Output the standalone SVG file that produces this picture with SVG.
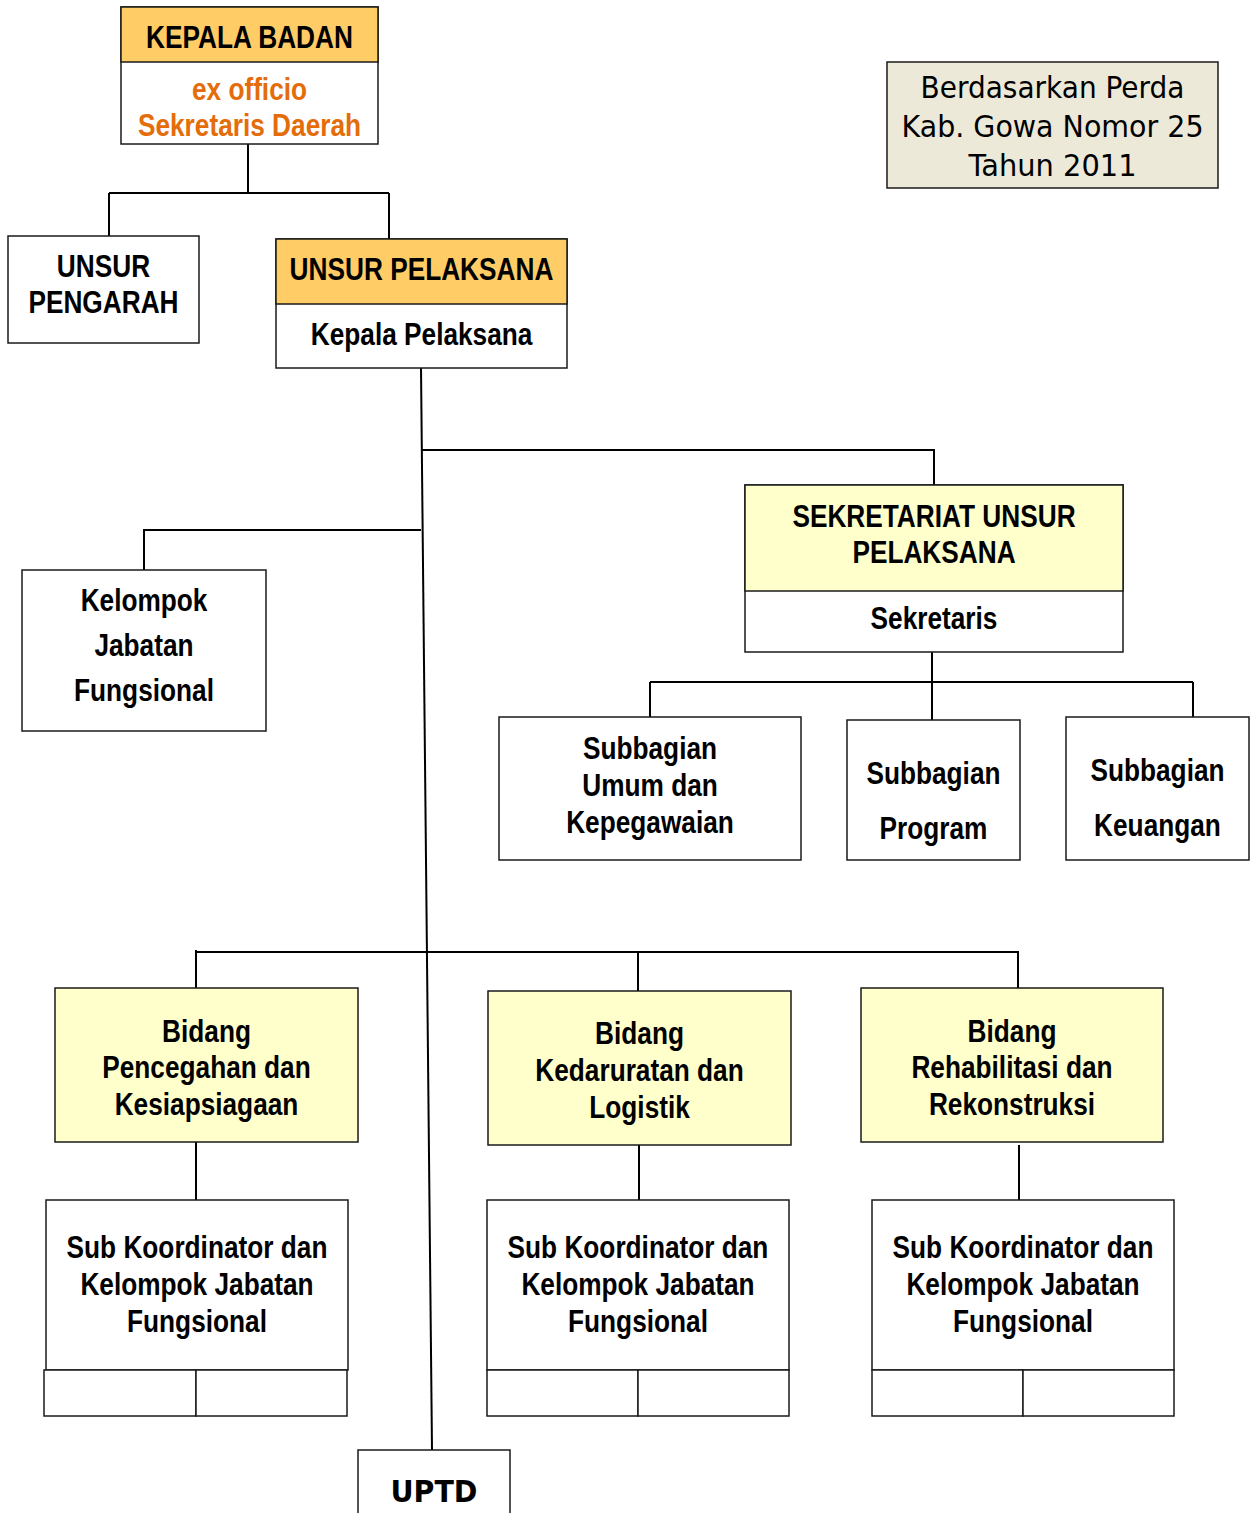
<svg xmlns="http://www.w3.org/2000/svg" width="1252" height="1513" viewBox="0 0 1252 1513">
<style>
.bx{stroke:#1a1a1a;stroke-width:1.5;fill:#ffffff}
.or{fill:#FFCC66}
.ye{fill:#FFFFCC}
.gr{fill:#ECE9D8}
.t{font-family:"Liberation Sans",Arial,sans-serif;font-weight:bold;font-size:32px;fill:#000;text-anchor:middle;transform-box:fill-box;transform-origin:center;transform:scaleX(0.82)}
.o{fill:#E46C0A}
.tah{font-family:"DejaVu Sans","Liberation Sans",sans-serif;font-size:30px;fill:#000;text-anchor:middle}
.up{font-family:"DejaVu Sans","Liberation Sans",sans-serif;font-weight:bold;font-size:30px;fill:#000;text-anchor:middle}
.ln{stroke:#000;stroke-width:2;fill:none}
</style>
<rect width="1252" height="1513" fill="#ffffff"/>
<g id="connectors">
<path class="ln" d="M248 144V193M109 193H389M109 193V236M389 193V239"/>
<path class="ln" d="M421 368L432 1450"/>
<path class="ln" d="M422 450H934V485"/>
<path class="ln" d="M421 530H144V570"/>
<path class="ln" d="M932 652V720M650 682H1193M650 682V717M1193 682V717"/>
<path class="ln" d="M196 952H1019M196 950V988M638 952V991M1018 952V988"/>
<path class="ln" d="M196 1142V1200M639 1145V1200M1019 1145V1203"/>
</g>
<g id="kepala-badan">
<rect class="bx" x="121" y="7" width="257" height="137"/>
<rect class="bx or" x="121" y="7" width="257" height="55"/>
<text class="t" x="249.5" y="48">KEPALA BADAN</text>
<text class="t o" x="249.5" y="100">ex officio</text>
<text class="t o" x="249.5" y="136">Sekretaris Daerah</text>
</g>
<g id="perda">
<rect class="bx gr" x="887" y="62" width="331" height="126"/>
<text class="tah" x="1052.5" y="98" textLength="264" lengthAdjust="spacingAndGlyphs">Berdasarkan Perda</text>
<text class="tah" x="1052.5" y="137" textLength="302" lengthAdjust="spacingAndGlyphs">Kab. Gowa Nomor 25</text>
<text class="tah" x="1052.5" y="176" textLength="168" lengthAdjust="spacingAndGlyphs">Tahun 2011</text>
</g>
<g id="unsur-pengarah">
<rect class="bx" x="8" y="236" width="191" height="107"/>
<text class="t" x="103.5" y="277">UNSUR</text>
<text class="t" x="103.5" y="313">PENGARAH</text>
</g>
<g id="unsur-pelaksana">
<rect class="bx" x="276" y="239" width="291" height="129"/>
<rect class="bx or" x="276" y="239" width="291" height="65"/>
<text class="t" x="421.5" y="280">UNSUR PELAKSANA</text>
<text class="t" x="421.5" y="345">Kepala Pelaksana</text>
</g>
<g id="sekretariat">
<rect class="bx" x="745" y="485" width="378" height="167"/>
<rect class="bx ye" x="745" y="485" width="378" height="106"/>
<text class="t" x="934" y="527">SEKRETARIAT UNSUR</text>
<text class="t" x="934" y="563">PELAKSANA</text>
<text class="t" x="934" y="629">Sekretaris</text>
</g>
<g id="kelompok-jabatan-fungsional">
<rect class="bx" x="22" y="570" width="244" height="161"/>
<text class="t" x="144" y="611">Kelompok</text>
<text class="t" x="144" y="656">Jabatan</text>
<text class="t" x="144" y="701">Fungsional</text>
</g>
<g id="subbagian-umum">
<rect class="bx" x="499" y="717" width="302" height="143"/>
<text class="t" x="650" y="759">Subbagian</text>
<text class="t" x="650" y="796">Umum dan</text>
<text class="t" x="650" y="833">Kepegawaian</text>
</g>
<g id="subbagian-program">
<rect class="bx" x="847" y="720" width="173" height="140"/>
<text class="t" x="933.5" y="784">Subbagian</text>
<text class="t" x="933.5" y="839">Program</text>
</g>
<g id="subbagian-keuangan">
<rect class="bx" x="1066" y="717" width="183" height="143"/>
<text class="t" x="1157.5" y="781">Subbagian</text>
<text class="t" x="1157.5" y="836">Keuangan</text>
</g>
<g id="bidang-pencegahan">
<rect class="bx ye" x="55" y="988" width="303" height="154"/>
<text class="t" x="206.5" y="1042">Bidang</text>
<text class="t" x="206.5" y="1078">Pencegahan dan</text>
<text class="t" x="206.5" y="1115">Kesiapsiagaan</text>
</g>
<g id="bidang-kedaruratan">
<rect class="bx ye" x="488" y="991" width="303" height="154"/>
<text class="t" x="639.5" y="1044">Bidang</text>
<text class="t" x="639.5" y="1081">Kedaruratan dan</text>
<text class="t" x="639.5" y="1118">Logistik</text>
</g>
<g id="bidang-rehabilitasi">
<rect class="bx ye" x="861" y="988" width="302" height="154"/>
<text class="t" x="1012" y="1042">Bidang</text>
<text class="t" x="1012" y="1078">Rehabilitasi dan</text>
<text class="t" x="1012" y="1115">Rekonstruksi</text>
</g>
<g id="subkoor-1">
<rect class="bx" x="46" y="1200" width="302" height="170"/>
<rect class="bx" x="44" y="1370" width="152" height="46"/>
<rect class="bx" x="196" y="1370" width="151" height="46"/>
<text class="t" x="197" y="1258">Sub Koordinator dan</text>
<text class="t" x="197" y="1295">Kelompok Jabatan</text>
<text class="t" x="197" y="1332">Fungsional</text>
</g>
<g id="subkoor-2">
<rect class="bx" x="487" y="1200" width="302" height="170"/>
<rect class="bx" x="487" y="1370" width="151" height="46"/>
<rect class="bx" x="638" y="1370" width="151" height="46"/>
<text class="t" x="638" y="1258">Sub Koordinator dan</text>
<text class="t" x="638" y="1295">Kelompok Jabatan</text>
<text class="t" x="638" y="1332">Fungsional</text>
</g>
<g id="subkoor-3">
<rect class="bx" x="872" y="1200" width="302" height="170"/>
<rect class="bx" x="872" y="1370" width="151" height="46"/>
<rect class="bx" x="1023" y="1370" width="151" height="46"/>
<text class="t" x="1023" y="1258">Sub Koordinator dan</text>
<text class="t" x="1023" y="1295">Kelompok Jabatan</text>
<text class="t" x="1023" y="1332">Fungsional</text>
</g>
<g id="uptd">
<rect class="bx" x="358" y="1450" width="152" height="70"/>
<text class="up" x="434" y="1502" textLength="87" lengthAdjust="spacingAndGlyphs">UPTD</text>
</g>
</svg>
